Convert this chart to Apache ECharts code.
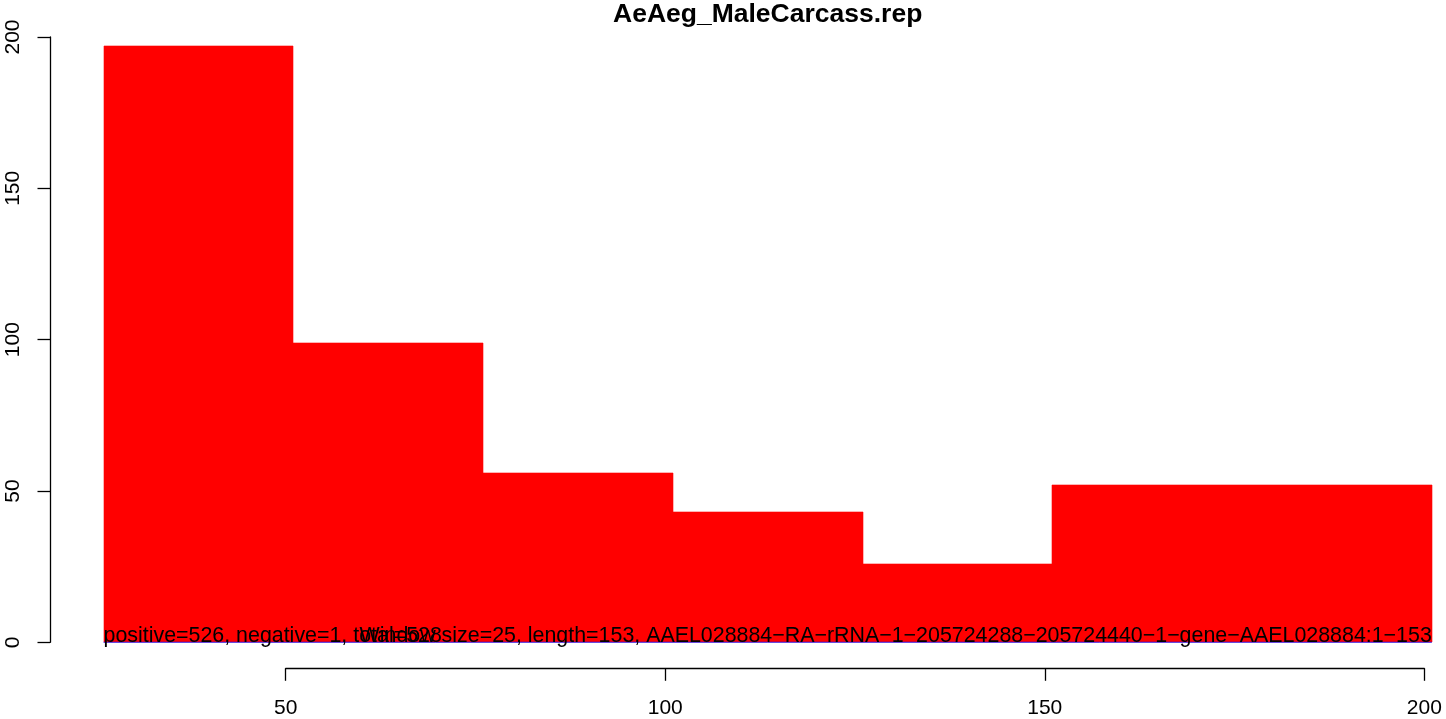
<!DOCTYPE html>
<html>
<head>
<meta charset="utf-8">
<script src="https://cdn.jsdelivr.net/npm/echarts@6/dist/echarts.min.js"></script>
<style>html,body{margin:0;padding:0;background:#fff}#c{width:1446px;height:719px}</style>
</head>
<body>
<div id="c"></div>
<script>
// ---- data ----
var titleText = 'AeAeg_MaleCarcass.rep';
var binStarts = [26, 51, 76, 101, 126, 151, 176];
var binEnds   = [51, 76, 101, 126, 151, 176, 201];
var counts    = [197, 99, 56, 43, 26, 52, 52];
var xTicks = [50, 100, 150, 200];
var yTicks = [0, 50, 100, 150, 200];
var leftNote = 'positive=526, negative=1, total=528';
var rightNote = 'Window size=25, length=153, AAEL028884\u2212RA\u2212rRNA\u22121\u2212205724288\u2212205724440\u22121\u2212gene\u2212AAEL028884:1\u2212153';

var FONT = '"Liberation Sans", Arial, Helvetica, sans-serif';
var barData = binStarts.map(function (s, i) { return [s, binEnds[i], counts[i]]; });
var xMinData = binStarts[0], xMaxData = binEnds[binEnds.length - 1];

var chart = echarts.init(document.getElementById('c'), null, {renderer: 'canvas'});
var option = {
  backgroundColor: '#ffffff',
  animation: false,
  title: {
    text: titleText, left: 613, top: 1, padding: 0,
    textStyle: {fontFamily: FONT, fontSize: 26.5, fontWeight: 'bold', color: '#000'}
  },
  grid: [
    {left: 103.5, right: 14.2, top: 37, bottom: 76.7},
    {left: 285.7, right: 21.7, top: 37, bottom: 50.7}
  ],
  xAxis: [
    {gridIndex: 0, type: 'value', min: xMinData, max: xMaxData, show: false},
    {gridIndex: 1, type: 'value', min: xTicks[0], max: xTicks[xTicks.length - 1], interval: 50,
     axisLine: {show: true, onZero: false, lineStyle: {color: '#000', width: 1.3}},
     axisTick: {show: true, length: 12.5, lineStyle: {color: '#000', width: 1.3}},
     axisLabel: {fontFamily: FONT, fontSize: 21, color: '#000', margin: 29, showMinLabel: true, showMaxLabel: true},
     splitLine: {show: false}}
  ],
  yAxis: [
    {gridIndex: 0, type: 'value', min: yTicks[0], max: yTicks[yTicks.length - 1], interval: 50,
     offset: 53.5,
     axisLine: {show: true, onZero: false, lineStyle: {color: '#000', width: 1.3}},
     axisTick: {show: true, length: 12.5, lineStyle: {color: '#000', width: 1.3}},
     axisLabel: {fontFamily: FONT, fontSize: 21, color: '#000', rotate: 90, margin: 26, showMinLabel: true, showMaxLabel: true},
     splitLine: {show: false}},
    {gridIndex: 1, type: 'value', min: 0, max: 200, show: false}
  ],
  series: [
    {
      type: 'custom', xAxisIndex: 0, yAxisIndex: 0, data: barData, z: 2,
      renderItem: function (params, api) {
        var p0 = api.coord([api.value(0), 0]);
        var p1 = api.coord([api.value(1), api.value(2)]);
        var x0 = Math.round(p0[0]), x1 = Math.round(p1[0]);
        var yTop = Math.round(p1[1]), yBot = Math.round(p0[1]);
        return {type: 'rect', shape: {x: x0, y: yTop, width: x1 - x0, height: yBot - yTop},
                style: {fill: '#ff0000', stroke: '#ff0000', lineWidth: 0.6}};
      }
    },
    {
      type: 'line', xAxisIndex: 0, yAxisIndex: 0, z: 3, symbol: 'none', silent: true,
      data: [[xMinData, 0], [xMaxData, 0]],
      lineStyle: {color: '#0000ff', width: 1}
    },
    {
      type: 'custom', xAxisIndex: 0, yAxisIndex: 0, z: 4, clip: false,
      data: [[xMinData, 0, 0], [xMaxData, 0, 1]],
      renderItem: function (params, api) {
        var p = api.coord([api.value(0), api.value(1)]);
        var right = api.value(2) === 1;
        return {type: 'text', x: p[0], y: p[1] + 4,
                style: {text: right ? rightNote : leftNote, fill: '#000', fontFamily: FONT, fontSize: 21.4,
                        align: right ? 'right' : 'left', verticalAlign: 'bottom'}};
      }
    }
  ]
};
chart.setOption(option);
</script>
</body>
</html>
